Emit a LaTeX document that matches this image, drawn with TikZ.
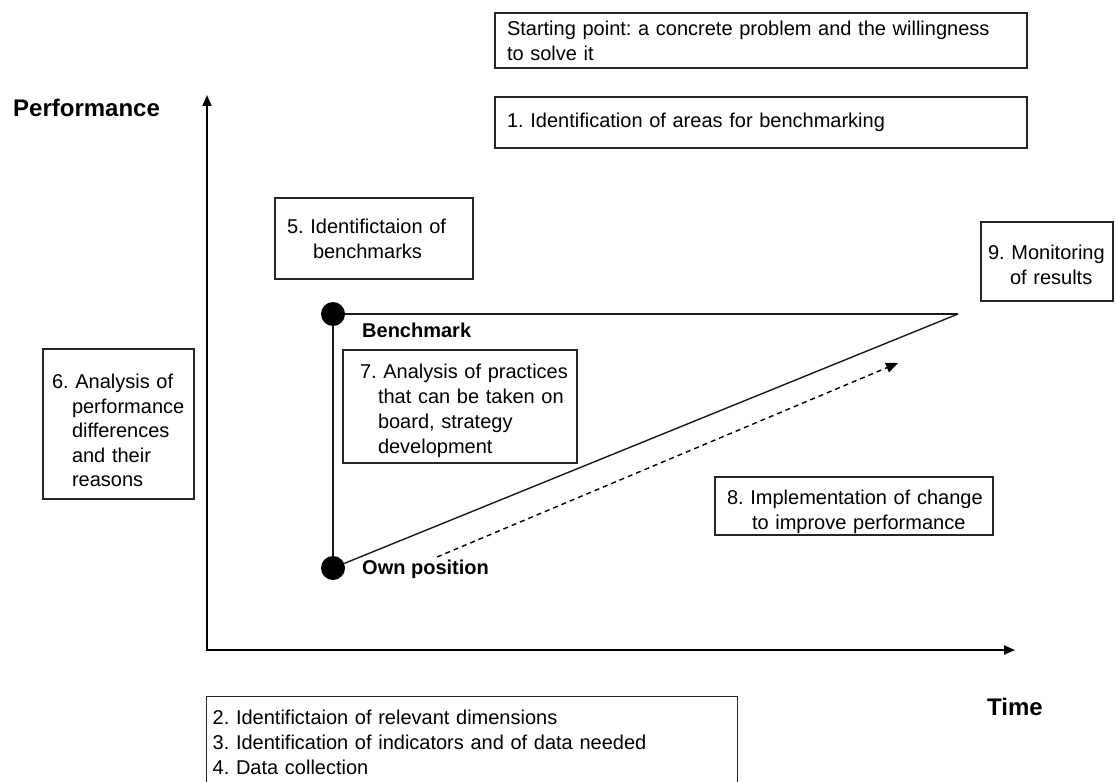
\documentclass[tikz,border=0pt]{standalone}
\usepackage{fontspec}
\setmainfont{Liberation Sans}
\usetikzlibrary{arrows.meta}
\hyphenpenalty=10000
\exhyphenpenalty=10000
\frenchspacing
\newcommand\boxfont{\fontsize{20}{25}\selectfont}
% invisible strut that lowers the text block inside a box
\newcommand\lift[1]{\rule{0pt}{#1}}
\begin{document}
\begin{tikzpicture}[x=1pt,y=-1pt,
  box/.style={draw=black!85, line width=1.4pt, align=left, inner ysep=0pt, font=\boxfont},
  dot/.style={circle, fill=black, minimum size=24pt, inner sep=0pt},
  conn/.style={line width=1.4pt, draw=black!90},
  axis/.style={line width=1.8pt, {Triangle[length=11pt,width=9pt]}-{Triangle[length=11pt,width=9pt]}},
  move/.style={line width=1.4pt, dash pattern=on 5pt off 4pt, -{Triangle[length=12pt,width=10pt]}},
  axislabel/.style={font=\fontsize{24}{28}\selectfont\bfseries, inner sep=0pt},
  pointlabel/.style={font=\fontsize{20}{24}\selectfont\bfseries, inner sep=0pt}]
\useasboundingbox (0,0) rectangle (1115,781);
\clip (0,0) rectangle (1115,781);

% axes
\coordinate (origin) at (207,650);
\coordinate (ytip) at (207,95);
\coordinate (xtip) at (1015,650);
\draw[axis] (ytip) -- (origin) -- (xtip);
\node[axislabel, anchor=base west] (perf) at (13,117) {Performance};
\node[axislabel, anchor=base west] (time) at (987,715) {Time};

% process boxes
\node[box, text width=508pt, inner xsep=12pt, minimum height=55pt] (start) at (761,40.5)
  {Starting point: a concrete problem and the willingness\\to solve it};
\node[box, text width=508pt, inner xsep=12pt, minimum height=51pt] (areas) at (761,122.5)
  {1. Identification of areas for benchmarking};
\node[box, text width=174pt, inner xsep=12pt, minimum height=81pt] (bmarks) at (374,238.5)
  {5. Identifictaion of\\\hspace*{26pt}benchmarks};
\node[box, text width=133pt, inner xsep=9pt, minimum height=150pt,
  font=\fontsize{20}{24.5}\selectfont] (diffs) at (118.5,424)
  {\lift{28pt}6. Analysis of\\\hspace*{20pt}performance\\\hspace*{20pt}differences\\\hspace*{20pt}and their\\\hspace*{20pt}reasons};
\node[box, text width=200pt, inner xsep=17pt, minimum height=113pt] (practices) at (460,406.5)
  {\lift{22.6pt}\mbox{7. Analysis of practices}\\\hspace*{18pt}\mbox{that can be taken on}\\\hspace*{18pt}board, strategy\\\hspace*{18pt}development};
\node[box, text width=254pt, inner xsep=12pt, minimum height=58pt] (change) at (854,506)
  {\lift{26.6pt}\mbox{8. Implementation of change}\\\hspace*{25pt}to improve performance};
\node[box, text width=118pt, inner xsep=7pt, minimum height=79pt] (monitor) at (1047,261.5)
  {\lift{20.6pt}\mbox{9. Monitoring}\\\hspace*{22pt}of results};
\node[box, text width=519pt, inner xsep=6pt, inner ysep=13pt, anchor=north west] (data) at (206,696)
  {2. Identifictaion of relevant dimensions\\3. Identification of indicators and of data needed\\4. Data collection\rule[-60pt]{0pt}{0pt}};

% benchmark and own position
\node[dot] (bench) at (333,314) {};
\node[dot] (own) at (333,568) {};
\coordinate (peak) at (958,314);
\draw[conn] (bench) -- (own);
\draw[conn] (bench) -- (peak);
\draw[conn] (own) -- (peak);
\node[pointlabel, anchor=base west] (benchlabel) at (362,337) {Benchmark};
\node[pointlabel, anchor=base west] (ownlabel) at (362,574) {Own position};

% improvement path
\coordinate (moveA) at (437,557);
\coordinate (moveB) at (898,363);
\draw[move] (moveA) -- (moveB);
\end{tikzpicture}
\end{document}
